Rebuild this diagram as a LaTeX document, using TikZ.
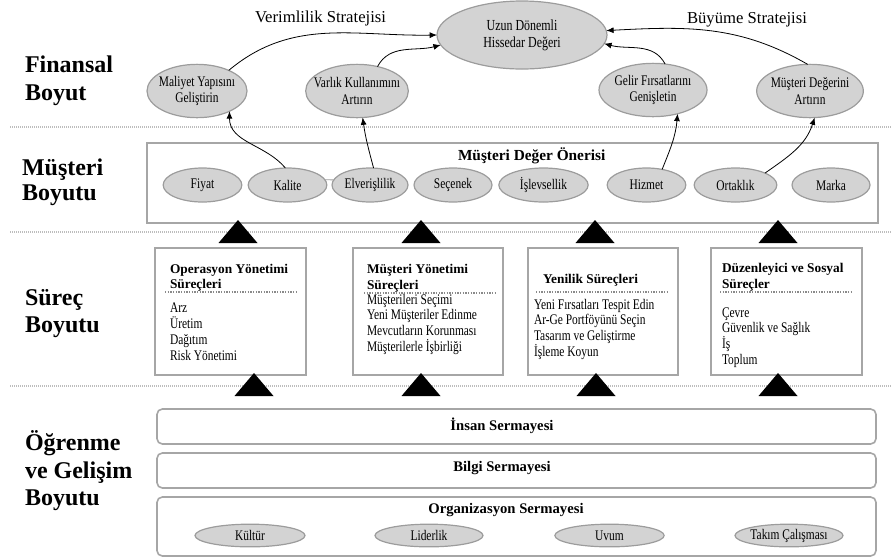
\documentclass[tikz,border=0pt]{standalone}
\usepackage{fontspec}
\setmainfont{Liberation Serif}
\newfontfamily\cnd{Liberation Serif}[FakeStretch=0.78]
\usetikzlibrary{arrows.meta,shapes.geometric}
\definecolor{ellfill}{HTML}{D3D3D3}
\definecolor{elldraw}{HTML}{9C9C9C}
\definecolor{boxdraw}{HTML}{A6A6A6}
\definecolor{sepcol}{HTML}{BDBDBD}
\definecolor{indot}{HTML}{8A8A8A}
\begin{document}
\begin{tikzpicture}[x=0.75pt,y=0.75pt,
 every node/.style={inner sep=0pt,outer sep=0pt},
 oval/.style={ellipse,fill=ellfill,draw=elldraw,line width=0.9pt},
 ovtxt/.style={align=center,font=\cnd\fontsize{11}{12.5}\selectfont},
 boxframe/.style={draw=boxdraw,line width=1.2pt},
 capbox/.style={draw=boxdraw,line width=1.2pt,rounded corners=4pt,minimum width=539.25pt},
 sep/.style={draw=sepcol,line width=0.8pt,dash pattern=on 0.75pt off 0.75pt},
 indots/.style={draw=indot,line width=1pt,dash pattern=on 1pt off 1pt},
 arr/.style={-{Latex[length=5.5pt,width=4.5pt]},line width=0.6pt},
 side/.style={anchor=base west,font=\bfseries\fontsize{18}{21}\selectfont},
 strat/.style={anchor=base west,font=\fontsize{12.5}{14}\selectfont},
 head/.style={anchor=base west,font=\bfseries\fontsize{10}{12}\selectfont},
 item/.style={anchor=base west,font=\cnd\fontsize{11}{12}\selectfont},
 captitle/.style={anchor=base,font=\bfseries\fontsize{11}{13}\selectfont}]
\useasboundingbox (0,0) rectangle (891,-558);

% separators
\draw[sep] (10,-127) -- (891,-127);
\draw[sep] (10,-232) -- (891,-232);
\draw[sep] (10,-386) -- (891,-386);

% side labels
\node[side] (f1) at (25,-72) {Finansal};
\node[side] (f2) at (25,-100) {Boyut};
\node[side] (m1) at (22,-175) {Müşteri};
\node[side] (m2) at (22,-200) {Boyutu};
\node[side] (s1) at (25,-305) {Süreç};
\node[side] (s2) at (25,-332) {Boyutu};
\node[side] (o1) at (25,-450) {Öğrenme};
\node[side] (o2) at (25,-478) {ve Gelişim};
\node[side] (o3) at (25,-505) {Boyutu};

% financial
\node[strat] (vs) at (255,-22) {Verimlilik Stratejisi};
\node[strat] (bs) at (687,-23) {Büyüme Stratejisi};
\node[oval,minimum width=127.5pt,minimum height=51pt] (uzun) at (522,-35) {};
\node[ovtxt,font=\cnd\fontsize{11.5}{12.5}\selectfont] (uzunt) at (uzun) {Uzun Dönemli\\Hissedar Değeri};
\node[oval,minimum width=75pt,minimum height=40pt] (mal) at (197,-91) {};
\node[ovtxt] (malt) at (mal) {Maliyet Yapısını\\Geliştirin};
\node[oval,minimum width=77pt,minimum height=40pt] (var) at (357,-91) {};
\node[ovtxt] (vart) at (var) {Varlık Kullanımını\\Artırın};
\node[oval,minimum width=81pt,minimum height=40pt] (gel) at (653,-90) {};
\node[ovtxt] (gelt) at (gel) {Gelir Fırsatlarını\\Genişletin};
\node[oval,minimum width=80pt,minimum height=40pt] (mde) at (810,-91) {};
\node[ovtxt] (mdet) at (mde) {Müşteri Değerini\\Artırın};

% customer
\node[boxframe,minimum width=548.25pt,minimum height=60pt] (mbox) at (512.5,-183) {};
\node[anchor=base west,font=\bfseries\fontsize{11.5}{13}\selectfont] (mdo) at (458,-160) {Müşteri Değer Önerisi};
\node[oval,minimum width=59pt,minimum height=25.5pt] (fiy) at (202.5,-185) {};
\node[ovtxt] (fiyt) at (fiy) {Fiyat};
\node[oval,minimum width=59pt,minimum height=25.5pt] (kal) at (287.5,-185) {};
\node[ovtxt] (kalt) at (kal) {Kalite};
\node[oval,minimum width=57pt,minimum height=25.5pt] (elv) at (370,-185) {};
\node[ovtxt] (elvt) at (elv) {Elverişlilik};
\node[oval,minimum width=58.5pt,minimum height=25.5pt] (sec) at (453,-185) {};
\node[ovtxt] (sect) at (sec) {Seçenek};
\node[oval,minimum width=67pt,minimum height=25.5pt] (isl) at (543.5,-185) {};
\node[ovtxt] (islt) at (isl) {İşlevsellik};
\node[oval,minimum width=59pt,minimum height=25.5pt] (hiz) at (646.5,-185) {};
\node[ovtxt] (hizt) at (hiz) {Hizmet};
\node[oval,minimum width=62pt,minimum height=25.5pt] (ort) at (735.5,-185) {};
\node[ovtxt] (ortt) at (ort) {Ortaklık};
\node[oval,minimum width=58.5pt,minimum height=25.5pt] (mar) at (831,-185) {};
\node[ovtxt] (mart) at (mar) {Marka};
\draw[line width=0.6pt,draw=elldraw] (kal.8) -- (elv.172);

% arrows
\draw[arr] (mal.33) to[out=40,in=181] (uzun.180);
\draw[arr] (var.50) to[out=62,in=195] (uzun.187);
\draw[arr] (gel.65) to[out=118,in=-15] (uzun.-6);
\draw[arr] (mde.95) to[out=150,in=3] (uzun.3);
\draw[arr] (kal.97) to[out=130,in=-90] (mal.-32);
\draw[arr] (elv.78) to[out=105,in=-82] (var.-78);
\draw[arr] (hiz.45) to[out=68,in=-95] (gel.-44);
\draw[arr] (ort.22) to[out=35,in=-108] (mde.-80);

% upper triangles
\foreach \x in {238,421,595,778}
  \fill (\x-19.5,-243) -- (\x,-220) -- (\x+19.5,-243) -- cycle;

% process boxes
\node[boxframe,minimum width=113.25pt,minimum height=95.25pt] (p1) at (230.5,-311.5) {};
\node[boxframe,minimum width=112.5pt,minimum height=95.25pt] (p2) at (428,-311.5) {};
\node[boxframe,minimum width=112.5pt,minimum height=95.25pt] (p3) at (603,-311.5) {};
\node[boxframe,minimum width=113.25pt,minimum height=95.25pt] (p4) at (786.5,-311.5) {};

\node[head] (h1a) at (170,-273) {Operasyon Yönetimi};
\node[head] (h1b) at (170,-288) {Süreçleri};
\draw[indots] (165,-292) -- (297,-292);
\foreach \t [count=\i] in {Arz,Üretim,Dağıtım,Risk Yönetimi}
  \node[item] (a\i) at (170,{-312-16.2*(\i-1)}) {\t};

\node[head] (h2a) at (367,-273) {Müşteri Yönetimi};
\node[head] (h2b) at (367,-289) {Süreçleri};
\draw[indots] (364,-293) -- (495,-293);
\foreach \t [count=\i] in {Müşterileri Seçimi,Yeni Müşteriler Edinme,Mevcutların Korunması,Müşterilerle İşbirliği}
  \node[item] (b\i) at (367,{-304-15.7*(\i-1)}) {\t};

\node[head] (h3a) at (543,-283) {Yenilik Süreçleri};
\draw[indots] (536,-292) -- (669,-292);
\foreach \t [count=\i] in {Yeni Fırsatları Tespit Edin,Ar-Ge Portföyünü Seçin,Tasarım ve Geliştirme,İşleme Koyun}
  \node[item] (c\i) at (534,{-309-15.7*(\i-1)}) {\t};

\node[head] (h4a) at (722,-272) {Düzenleyici ve Sosyal};
\node[head] (h4b) at (722,-288) {Süreçler};
\draw[indots] (720,-292) -- (852,-292);
\foreach \t [count=\i] in {Çevre,Güvenlik ve Sağlık,İş,Toplum}
  \node[item] (d\i) at (722,{-317-15.7*(\i-1)}) {\t};

% lower triangles
\foreach \x in {254,421,596,778}
  \fill (\x-19.5,-396) -- (\x,-373) -- (\x+19.5,-396) -- cycle;

% capital boxes
\node[capbox,minimum height=26.25pt] (insan) at (516.5,-426.5) {};
\node[captitle] (insant) at (502,-430) {İnsan Sermayesi};
\node[capbox,minimum height=26.25pt] (bilgi) at (516.5,-470.5) {};
\node[captitle] (bilgit) at (502,-471) {Bilgi Sermayesi};
\node[capbox,minimum height=44.25pt] (org) at (516.5,-526.5) {};
\node[captitle] (orgt) at (506,-513) {Organizasyon Sermayesi};

\node[oval,minimum width=82.5pt,minimum height=17pt] (kul) at (250,-535.5) {};
\node[ovtxt] (kult) at (kul) {Kültür};
\node[oval,minimum width=81pt,minimum height=17pt] (lid) at (429,-535.5) {};
\node[ovtxt] (lidt) at (lid) {Liderlik};
\node[oval,minimum width=82pt,minimum height=17pt] (uvu) at (609.5,-535.5) {};
\node[ovtxt] (uvut) at (uvu) {Uvum};
\node[oval,minimum width=81pt,minimum height=17pt] (tak) at (789,-535.5) {};
\node[ovtxt] (takt) at (tak) {Takım Çalışması};
\end{tikzpicture}
\end{document}
